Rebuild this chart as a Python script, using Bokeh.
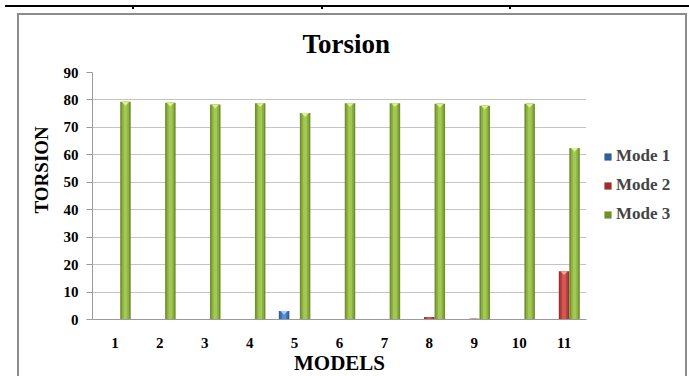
import numpy as np
from bokeh.plotting import figure
from bokeh.layouts import column
from bokeh.models import (Range1d, FixedTicker, Legend, LegendItem, Title,
                          ColumnDataSource, Div)
from bokeh.embed import file_html
from bokeh.resources import INLINE

# Torsion per model, three vibration modes
models = ["1", "2", "3", "4", "5", "6", "7", "8", "9", "10", "11"]
mode1 = [0, 0, 0, 0, 3.1, 0, 0, 0, 0, 0, 0]
mode2 = [0, 0, 0, 0, 0, 0, 0, 0.9, 0.3, 0, 17.6]
mode3 = [79.3, 79.0, 78.3, 78.8, 75.2, 78.8, 78.8, 78.6, 77.9, 78.6, 62.5]
y_ticks = [0, 10, 20, 30, 40, 50, 60, 70, 80, 90]

SERIF = "Liberation Serif"
pos = np.arange(1, len(models) + 1)
BW = 0.234  # bar width in category units

p = figure(frame_width=494, frame_height=247, output_backend="svg",
           toolbar_location=None,
           x_range=Range1d(0.5, len(models) + 0.5), y_range=Range1d(0, 90),
           min_border_left=92, min_border_right=103, min_border_top=72,
           min_border_bottom=57)
p.background_fill_color = "white"
p.border_fill_color = "white"
p.outline_line_color = None

# chart title
p.title.text = "Torsion"
p.title.align = "left"
p.title.offset = 210
p.title.standoff = 27
p.title.text_font = SERIF
p.title.text_font_style = "bold"
p.title.text_font_size = "27px"
p.title.text_color = "black"

# axes
p.xaxis.ticker = FixedTicker(ticks=list(pos))
p.xaxis.major_label_overrides = {int(k): m for k, m in zip(pos, models)}
p.yaxis.ticker = FixedTicker(ticks=y_ticks)
for ax in (p.xaxis, p.yaxis):
    ax.axis_line_color = "#9a9a9a"
    ax.major_label_text_font = SERIF
    ax.major_label_text_font_style = "bold"
    ax.major_label_text_font_size = "15px"
    ax.major_label_text_color = "black"
    ax.minor_tick_line_color = None
    ax.axis_label_text_font = SERIF
    ax.axis_label_text_font_style = "bold"
    ax.axis_label_text_color = "black"
p.xaxis.major_tick_line_color = None
p.xaxis.major_label_standoff = 12
p.xaxis.axis_label = "MODELS"
p.xaxis.axis_label_text_font_size = "21px"
p.xaxis.axis_label_standoff = 0
p.yaxis.major_tick_line_color = "#9a9a9a"
p.yaxis.major_tick_in = 0
p.yaxis.major_tick_out = 6
p.yaxis.major_label_standoff = 8

# vertical axis title, set a little above the middle of the axis
ytitle = Title(text="TORSION", align="left", offset=106, standoff=18,
               text_font=SERIF, text_font_style="bold", text_font_size="19px",
               text_color="black")
p.add_layout(ytitle, "left")

p.xgrid.grid_line_color = None
p.ygrid.grid_line_color = "#c4c4c4"
p.ygrid.grid_line_width = 1


def bevel_bars(offset, values, dark, mid, light, cap):
    """Draw a shaded column per value with a small light cap at its top."""
    x = pos + offset
    src = ColumnDataSource(dict(x=x, top=values))
    main = p.vbar(x="x", top="top", width=BW, source=src,
                  fill_color=dark, line_color=None)
    p.vbar(x="x", top="top", width=BW * 0.7, source=src,
           fill_color=mid, line_color=None)
    p.vbar(x="x", top="top", width=BW * 0.35, source=src,
           fill_color=light, line_color=None)
    xs, ys = [], []
    for xi, v in zip(x, values):
        if v > 1.2:
            xs.append([xi - BW * 0.35, xi + BW * 0.35, xi])
            ys.append([v, v, v - 1.4])
    if xs:
        p.patches(xs, ys, fill_color=cap, line_color=None)
    return main


r1 = bevel_bars(-BW, mode1, "#2f5f97", "#3f77b8", "#5a92cf", "#a9cdf0")
r2 = bevel_bars(0.0, mode2, "#9a2f2c", "#bd413d", "#d25a56", "#f0a8a5")
r3 = bevel_bars(BW, mode3, "#708f2e", "#8cb142", "#a2c953", "#dcf28c")

legend = Legend(items=[LegendItem(label="Mode 1", renderers=[r1]),
                       LegendItem(label="Mode 2", renderers=[r2]),
                       LegendItem(label="Mode 3", renderers=[r3])],
                location=(17, 95), orientation="vertical")
legend.glyph_width = 9
legend.glyph_height = 9
legend.label_height = 20
legend.spacing = 9
legend.padding = 0
legend.margin = 0
legend.label_standoff = 4
legend.label_text_font = SERIF
legend.label_text_font_style = "bold"
legend.label_text_font_size = "17px"
legend.border_line_color = None
legend.background_fill_alpha = 0
p.add_layout(legend, "right")

# outer chart border and the table rule above it
rule_html = (
    '<div style="position:absolute;left:0;top:0;width:689px;height:2px;background:#000"></div>'
    + "".join(
        f'<div style="position:absolute;left:{vx - 1}px;top:0;width:2px;height:4px;background:#000"></div>'
        for vx in (128, 317, 505))
    + '<div style="position:absolute;left:12px;top:8px;width:670px;height:400px;'
      'border:2px solid #8c8c8c;box-sizing:border-box"></div>'
)
overlay = Div(text=rule_html, width=689, height=376,
              styles={"position": "absolute", "left": "0px", "top": "0px",
                      "pointer-events": "none", "z-index": "5"})

layout = column(p, overlay)
open("out.html", "w").write(file_html(layout, INLINE))
